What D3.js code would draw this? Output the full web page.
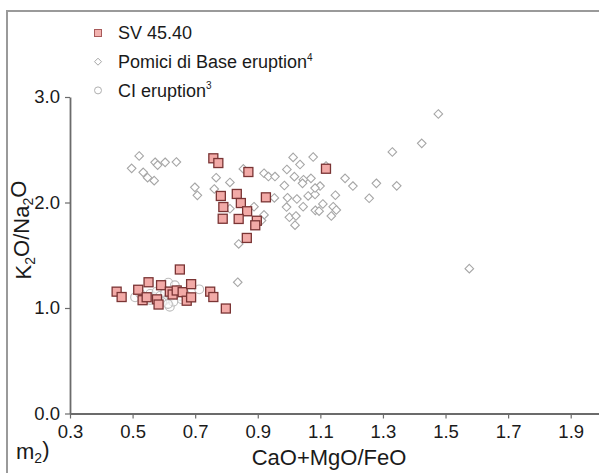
<!DOCTYPE html>
<html>
<head>
<meta charset="utf-8">
<script src="https://cdn.jsdelivr.net/npm/d3@7/dist/d3.min.js"></script>
<style>
  html, body { margin: 0; padding: 0; background: #fff; }
  svg { display: block; font-family: "Liberation Sans", Arial, sans-serif; }
</style>
</head>
<body>
<svg id="chart" width="599" height="473"></svg>
<script>
// CaO+MgO/FeO (x) vs K2O/Na2O (y)
const xTicks = [0.3, 0.5, 0.7, 0.9, 1.1, 1.3, 1.5, 1.7, 1.9];
const yTicks = [0.0, 1.0, 2.0, 3.0];

// Pomici di Base eruption
const pomiciPoints = [
  [0.497, 2.324], [0.521, 2.441], [0.534, 2.286], [0.548, 2.235], [0.569, 2.207],
  [0.572, 2.381], [0.580, 2.355], [0.604, 2.381], [0.640, 2.384], [0.699, 2.144],
  [0.707, 2.068], [0.767, 2.235], [0.761, 2.128], [0.811, 2.190], [0.854, 2.318],
  [0.811, 1.941], [0.888, 1.960], [0.920, 1.882], [0.912, 1.829], [0.839, 1.607],
  [0.836, 1.244], [0.920, 2.277], [0.934, 2.246], [0.955, 2.246], [0.953, 2.043],
  [0.985, 2.161], [0.993, 2.313], [1.013, 2.427], [1.035, 2.360], [1.077, 2.431],
  [1.017, 2.245], [1.046, 2.216], [1.043, 2.182], [1.070, 2.229], [0.995, 2.045],
  [1.025, 2.033], [1.061, 2.062], [1.083, 2.076], [0.992, 1.957], [1.045, 1.960],
  [1.084, 1.926], [1.096, 1.918], [1.001, 1.860], [1.022, 1.872], [1.019, 1.785],
  [1.099, 2.156], [1.083, 2.137], [1.108, 1.986], [1.148, 2.069], [1.141, 1.960],
  [1.151, 1.929], [1.135, 1.872], [1.118, 2.346], [1.179, 2.229], [1.204, 2.156],
  [1.256, 2.040], [1.279, 2.182], [1.330, 2.479], [1.344, 2.158], [1.424, 2.561],
  [1.477, 2.839], [1.576, 1.373]
];

// CI eruption
const ciPoints = [
  [0.508, 1.101], [0.524, 1.137], [0.556, 1.133], [0.568, 1.104], [0.577, 1.155],
  [0.588, 1.114], [0.597, 1.076], [0.604, 1.142], [0.609, 1.076], [0.614, 1.240],
  [0.619, 1.012], [0.623, 1.114], [0.630, 1.060], [0.635, 1.215], [0.645, 1.171],
  [0.651, 1.114], [0.657, 1.082], [0.667, 1.133], [0.713, 1.177], [0.594, 1.057],
  [0.613, 1.038], [0.556, 1.076]
];

// SV 45.40
const svPoints = [
  [0.758, 2.419], [0.774, 2.374], [0.870, 2.289], [1.118, 2.320], [0.782, 2.062],
  [0.833, 2.081], [0.926, 2.049], [0.790, 1.957], [0.846, 1.995], [0.866, 1.917],
  [0.788, 1.846], [0.839, 1.844], [0.897, 1.827], [0.892, 1.784], [0.865, 1.664],
  [0.449, 1.155], [0.465, 1.104], [0.518, 1.173], [0.551, 1.244], [0.532, 1.074],
  [0.545, 1.102], [0.578, 1.082], [0.583, 1.033], [0.591, 1.216], [0.619, 1.155],
  [0.628, 1.128], [0.641, 1.166], [0.660, 1.150], [0.651, 1.365], [0.687, 1.226],
  [0.673, 1.069], [0.687, 1.101], [0.748, 1.155], [0.758, 1.104], [0.798, 0.995]
];

const legendItems = [
  { label: "SV 45.40", sup: "", shape: "square" },
  { label: "Pomici di Base eruption", sup: "4", shape: "diamond" },
  { label: "CI eruption", sup: "3", shape: "circle" }
];

const svg = d3.select("#chart");

// outer panel frame
svg.append("rect")
  .attr("x", 7).attr("y", 11)
  .attr("width", 700).attr("height", 600)
  .attr("fill", "none")
  .attr("stroke", "#9a9a9a")
  .attr("stroke-width", 2);

const x = d3.scaleLinear().domain([0.3, 2.0]).range([70, 602]);
const y = d3.scaleLinear().domain([0, 3.0]).range([413.5, 97]);

const axisColor = "#6b6b6b";

const xAxis = svg.append("g")
  .attr("transform", `translate(0,${y(0)})`)
  .call(d3.axisBottom(x).tickValues(xTicks).tickFormat(d3.format(".1f"))
    .tickSizeInner(5).tickSizeOuter(0).tickPadding(6));

const yAxis = svg.append("g")
  .attr("transform", `translate(${x(0.3)},0)`)
  .call(d3.axisLeft(y).tickValues(yTicks).tickFormat(d3.format(".1f"))
    .tickSizeInner(5).tickSizeOuter(0).tickPadding(5));

[xAxis, yAxis].forEach(g => {
  g.select(".domain").attr("stroke", axisColor).attr("stroke-width", 1.8);
  g.selectAll(".tick line").attr("stroke", axisColor).attr("stroke-width", 1.2);
  g.selectAll(".tick text")
    .attr("fill", "#1a1a1a")
    .style("font-size", "18.5px")
    .style("font-family", "'Liberation Sans', Arial, sans-serif");
});

// marker shapes
const diamondPath = r => `M0,${-r}L${r},0L0,${r}L${-r},0Z`;

const plot = svg.append("g");

plot.append("g").selectAll("path")
  .data(pomiciPoints)
  .join("path")
  .attr("transform", d => `translate(${x(d[0])},${y(d[1])})`)
  .attr("d", diamondPath(4.3))
  .attr("fill", "#fff")
  .attr("stroke", "#a6a6a6")
  .attr("stroke-width", 1.1);

plot.append("g").selectAll("circle")
  .data(ciPoints)
  .join("circle")
  .attr("cx", d => x(d[0]))
  .attr("cy", d => y(d[1]))
  .attr("r", 4.4)
  .attr("fill", "#fff")
  .attr("fill-opacity", 0.6)
  .attr("stroke", "#bdbdbd")
  .attr("stroke-width", 1.1);

const sq = 9;
plot.append("g").selectAll("rect")
  .data(svPoints)
  .join("rect")
  .attr("x", d => x(d[0]) - sq / 2)
  .attr("y", d => y(d[1]) - sq / 2)
  .attr("width", sq).attr("height", sq)
  .attr("fill", "#f2aaa7")
  .attr("stroke", "#7a3434")
  .attr("stroke-width", 1.3);

// legend
const legend = svg.append("g").attr("transform", "translate(98,33)");
const rowGap = 28.7;
legendItems.forEach((item, i) => {
  const row = legend.append("g").attr("transform", `translate(0,${i * rowGap})`);
  if (item.shape === "square") {
    row.append("rect").attr("x", -3.5).attr("y", -3.5).attr("width", 7).attr("height", 7)
      .attr("fill", "#f2b3b0").attr("stroke", "#a85a5a").attr("stroke-width", 1);
  } else if (item.shape === "diamond") {
    row.append("path").attr("d", diamondPath(3.5))
      .attr("fill", "#fff").attr("stroke", "#a6a6a6").attr("stroke-width", 1);
  } else {
    row.append("circle").attr("r", 3.5)
      .attr("fill", "#fff").attr("stroke", "#b0b0b0").attr("stroke-width", 1);
  }
  const t = row.append("text")
    .attr("x", 20).attr("y", 0).attr("dy", "0.35em")
    .attr("fill", "#1a1a1a")
    .style("font-size", "18px");
  t.append("tspan").text(item.label);
  if (item.sup) {
    t.append("tspan").attr("dy", "-0.75em").style("font-size", "10px").text(item.sup);
  }
});

// axis titles
svg.append("text")
  .attr("x", 329).attr("y", 465)
  .attr("text-anchor", "middle")
  .attr("fill", "#1a1a1a")
  .style("font-size", "22px")
  .text("CaO+MgO/FeO");

const yTitle = svg.append("text")
  .attr("transform", "translate(31,230) rotate(-90)")
  .attr("text-anchor", "middle")
  .attr("fill", "#1a1a1a")
  .style("font-size", "22px");
yTitle.append("tspan").text("K");
yTitle.append("tspan").attr("dy", "0.3em").style("font-size", "14px").text("2");
yTitle.append("tspan").attr("dy", "-0.3em").text("O/Na");
yTitle.append("tspan").attr("dy", "0.3em").style("font-size", "14px").text("2");
yTitle.append("tspan").attr("dy", "-0.3em").text("O");

// panel tag, bottom left
const tag = svg.append("text")
  .attr("x", 16).attr("y", 459)
  .attr("fill", "#1a1a1a")
  .style("font-size", "22px");
tag.append("tspan").text("m");
tag.append("tspan").attr("dy", "0.3em").style("font-size", "14px").text("2");
tag.append("tspan").attr("dy", "-0.3em").text(")");
</script>
</body>
</html>
